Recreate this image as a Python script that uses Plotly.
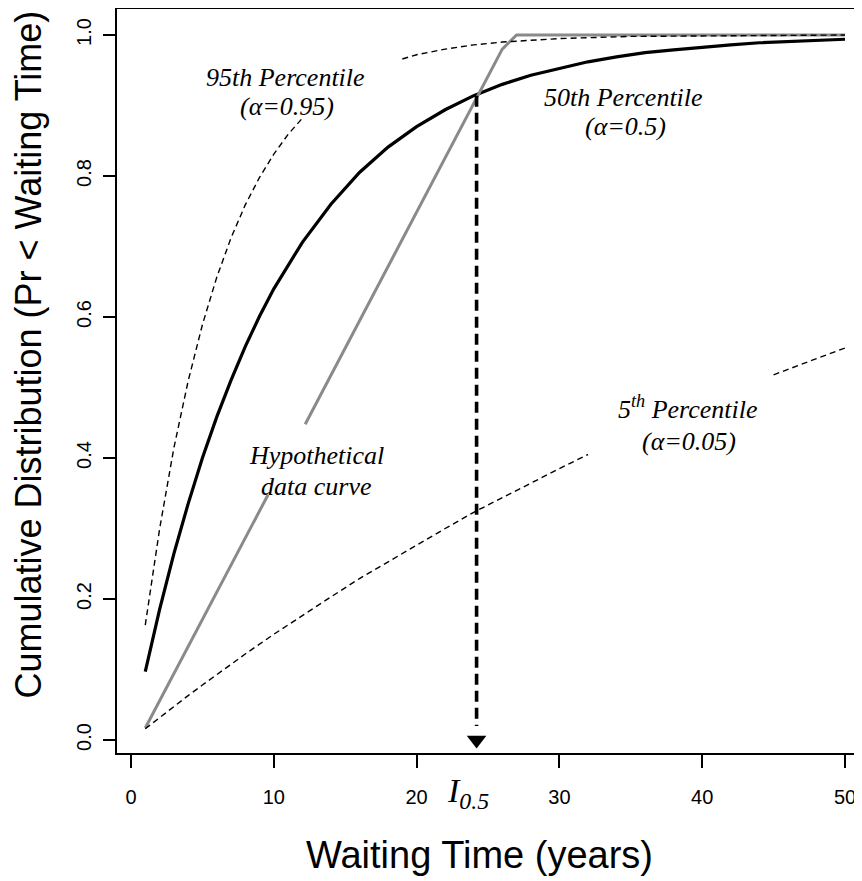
import plotly.graph_objects as go

# ---- data ----
p50_x = [1, 2, 3, 4, 5, 6, 7, 8, 9, 10, 12, 14, 16, 18, 20, 22, 24, 26, 28, 30,
         32, 34, 36, 38, 40, 42, 44, 46, 48, 50]
p50_y = [0.097, 0.185, 0.264, 0.335, 0.400, 0.458, 0.510, 0.558, 0.601, 0.640,
         0.706, 0.760, 0.805, 0.841, 0.870, 0.894, 0.914, 0.930, 0.943, 0.953,
         0.962, 0.969, 0.975, 0.979, 0.983, 0.986, 0.989, 0.991, 0.993, 0.994]

p95_x = [1, 2, 3, 4, 5, 6, 7, 8, 9, 10, 11, 12, 15, 19, 20, 22, 24, 26, 28, 30,
         35, 40, 45, 50]
p95_y = [0.163, 0.299, 0.414, 0.509, 0.589, 0.656, 0.712, 0.759, 0.798, 0.831,
         0.859, 0.882, None, 0.966, 0.972, 0.980, 0.986, 0.990, 0.993, 0.995,
         0.998, 0.999, 1.0, 1.0]

p05_x = [1, 2, 3, 4, 5, 6, 8, 10, 12, 14, 16, 18, 20, 22, 24, 26, 28, 30, 32,
         38, 45, 46, 48, 50]
p05_y = [0.016, 0.032, 0.048, 0.063, 0.078, 0.093, 0.122, 0.150, 0.177, 0.203,
         0.229, 0.253, 0.277, 0.300, 0.323, 0.344, 0.365, 0.385, 0.405,
         None, 0.518, 0.526, 0.541, 0.556]

data_x = [1, 9.6, 11, 12.2, 26, 27, 50]
data_y = [0.017, 0.348, None, 0.448, 0.980, 1.0, 1.0]

i05_x = 24.2      # waiting time where data curve crosses the 50th percentile
i05_y = 0.914

x_ticks = [0, 10, 20, 30, 40, 50]
y_ticks = [0.0, 0.2, 0.4, 0.6, 0.8, 1.0]
y_ticklabels = ["0.0", "0.2", "0.4", "0.6", "0.8", "1.0"]

# ---- figure ----
fig = go.Figure()

fig.add_trace(go.Scatter(x=p50_x, y=p50_y, mode="lines",
                         line=dict(color="black", width=3.2), connectgaps=False))
fig.add_trace(go.Scatter(x=data_x, y=data_y, mode="lines",
                         line=dict(color="#8a8a8a", width=3), connectgaps=False))
fig.add_trace(go.Scatter(x=p95_x, y=p95_y, mode="lines",
                         line=dict(color="black", width=1.4, dash="6px,4px"),
                         connectgaps=False))
fig.add_trace(go.Scatter(x=p05_x, y=p05_y, mode="lines",
                         line=dict(color="black", width=1.4, dash="6px,4px"),
                         connectgaps=False))
# vertical dashed arrow
fig.add_trace(go.Scatter(x=[i05_x, i05_x], y=[i05_y, 0.02], mode="lines",
                         line=dict(color="black", width=3.6, dash="11px,6px")))
fig.add_trace(go.Scatter(x=[i05_x], y=[0.0], mode="markers",
                         marker=dict(symbol="triangle-down", size=17, color="black",
                                     line=dict(width=0))))

serif = "Liberation Serif, Times New Roman, serif"
lab_font = dict(family=serif, size=26, color="black")

def note(x, y, text, **kw):
    fig.add_annotation(x=x, y=y, xref="x", yref="y", text=text, showarrow=False,
                       font=lab_font, xanchor="center", yanchor="middle", **kw)

note(10.85, 0.940, "<i>95th Percentile</i>")
note(10.92, 0.898, "<i>(α=0.95)</i>")
note(34.5, 0.912, "<i>50th Percentile</i>")
note(34.6, 0.870, "<i>(α=0.5)</i>")
note(12.96, 0.404, "<i>Hypothetical</i>")
note(12.96, 0.359, "<i>data curve</i>")
note(39.0, 0.472, "<i>5<sup>th</sup> Percentile</i>")
note(39.07, 0.424, "<i>(α=0.05)</i>")

# I_0.5 label below axis
fig.add_annotation(x=i05_x - 0.6, y=-0.054, xref="x", yref="paper",
                   text="<i>I<sub>0.5</sub></i>", showarrow=False,
                   font=dict(family=serif, size=34, color="black"),
                   xanchor="center", yanchor="middle")

sans = "Liberation Sans, Arial, sans-serif"
# axis titles
fig.add_annotation(x=0.487, y=-0.137, xref="paper", yref="paper",
                   text="Waiting Time (years)", showarrow=False,
                   font=dict(family=sans, size=38, color="black"),
                   xanchor="center", yanchor="middle")
fig.add_annotation(x=-0.119, y=0.536, xref="paper", yref="paper",
                   text="Cumulative Distribution (Pr < Waiting Time)", showarrow=False,
                   textangle=-90,
                   font=dict(family=sans, size=36, color="black"),
                   xanchor="center", yanchor="middle")

tick_font = dict(family=sans, size=20, color="black")

fig.update_layout(
    width=854, height=873,
    margin=dict(l=109, r=0, t=1, b=128),
    paper_bgcolor="white", plot_bgcolor="white",
    showlegend=False,
    xaxis=dict(range=[-0.98, 51.19], tickvals=x_ticks, showgrid=False,
               zeroline=False, showline=True, linecolor="black", linewidth=2,
               mirror=True, ticks="outside", ticklen=13, tickwidth=2,
               tickcolor="black", tickfont=tick_font, ticklabelstandoff=12),
    yaxis=dict(range=[-0.0184, 1.0369], tickvals=y_ticks, ticktext=y_ticklabels,
               showgrid=False, zeroline=False, showline=True, linecolor="black",
               linewidth=2, ticks="outside", ticklen=12, tickwidth=2,
               tickcolor="black", tickfont=tick_font, tickangle=-90,
               ticklabelstandoff=4),
)

fig.write_html("out.html")
